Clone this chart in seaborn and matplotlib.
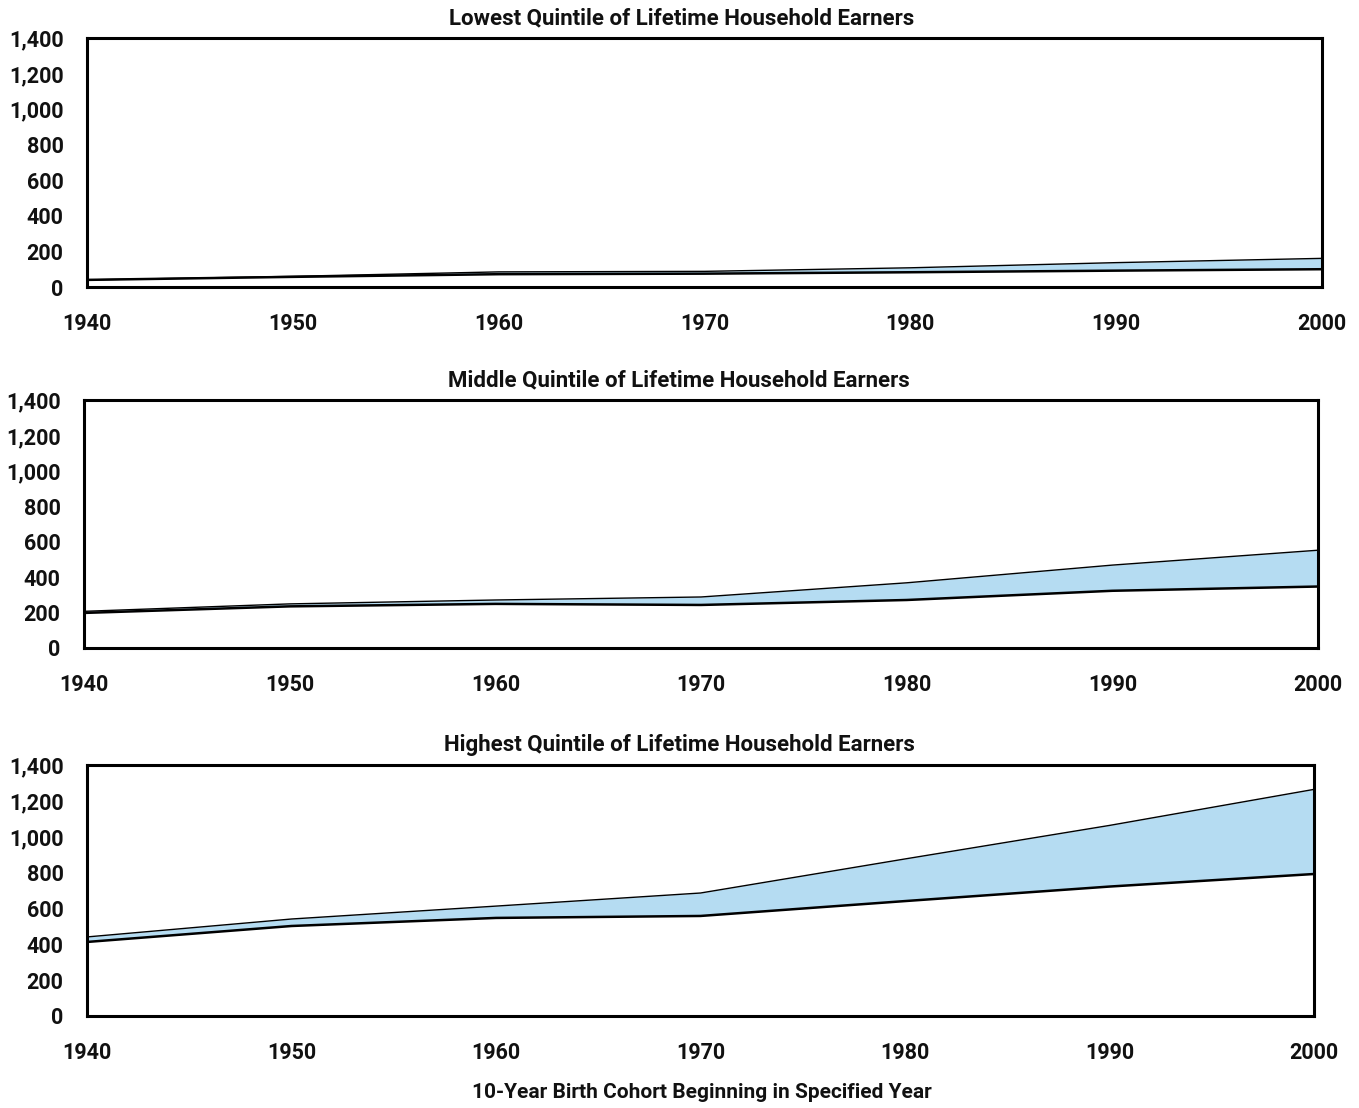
import numpy as np
import pandas as pd
import seaborn as sns
import matplotlib.pyplot as plt
from matplotlib.ticker import FuncFormatter

# Birth cohort start years
years = [1940, 1950, 1960, 1970, 1980, 1990, 2000]

# Lowest quintile: lower and upper bounds
low_lower = [40, 57, 72, 75, 83, 92, 100]
low_upper = [40, 60, 85, 88, 108, 137, 161]

# Middle quintile
mid_lower = [198, 235, 249, 243, 271, 323, 347]
mid_upper = [207, 249, 271, 288, 368, 468, 552]

# Highest quintile
high_lower = [413, 502, 547, 558, 641, 722, 792]
high_upper = [441, 541, 613, 686, 876, 1063, 1264]

titles = [
    "Lowest Quintile of Lifetime Household Earners",
    "Middle Quintile of Lifetime Household Earners",
    "Highest Quintile of Lifetime Household Earners",
]
panels = [(low_lower, low_upper), (mid_lower, mid_upper), (high_lower, high_upper)]

sns.set_theme(style="white")
plt.rcParams["font.family"] = ["Roboto", "DejaVu Sans"]
plt.rcParams["font.weight"] = "bold"

W, H = 1359, 1108
fig = plt.figure(figsize=(W / 100, H / 100), dpi=100)
# axes boxes in pixels: left, right, top, bottom
boxes = [(87, 1322, 38, 287), (84, 1318, 400, 648), (87, 1314, 765, 1016)]
title_centers = [682, 679, 679]

fill_color = "#b5dcf2"

for (l, r, t, b), tc, title, (lower, upper) in zip(boxes, title_centers, titles, panels):
    ax = fig.add_axes((l / W, 1 - b / H, (r - l) / W, (b - t) / H))
    df = pd.DataFrame({"year": years, "lower": lower, "upper": upper})
    ax.fill_between(df["year"], df["lower"], df["upper"], color=fill_color, lw=0)
    sns.lineplot(data=df, x="year", y="upper", ax=ax, color="black", lw=1.0)
    sns.lineplot(data=df, x="year", y="lower", ax=ax, color="black", lw=1.8)

    ax.set_xlim(1940, 2000)
    ax.set_ylim(0, 1400)
    ax.set_xticks(years)
    ax.set_yticks(range(0, 1401, 200))
    ax.yaxis.set_major_formatter(FuncFormatter(lambda v, p: f"{int(v):,}"))
    ax.set_xlabel("")
    ax.set_ylabel("")
    ax.tick_params(axis="both", direction="in", length=11.5, width=1.0,
                   color="#222222", labelsize=15.5, labelcolor="#111111")
    ax.tick_params(axis="x", pad=19)
    ax.tick_params(axis="y", pad=17)
    for lab in ax.get_xticklabels() + ax.get_yticklabels():
        lab.set_fontweight("bold")
    for sp in ax.spines.values():
        sp.set_visible(True)
        sp.set_color("black")
        sp.set_linewidth(2.2)
    ax.set_title(title, fontsize=16, fontweight="bold", pad=10, color="#111111",
                 x=(tc - l) / (r - l))

fig.text(702 / W, 1 - 1093 / H, "10-Year Birth Cohort Beginning in Specified Year",
         ha="center", va="center", fontsize=15, fontweight="bold", color="#111111")

fig.savefig("out.png", dpi=100)
